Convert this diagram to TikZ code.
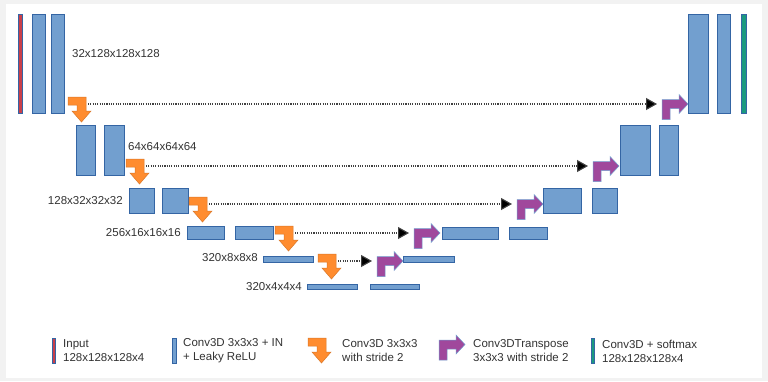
\documentclass[tikz,border=0pt]{standalone}
\usepackage{fontspec}
\setmainfont{Liberation Sans}
\usetikzlibrary{arrows.meta}

\definecolor{convblue}{HTML}{729FCF}
\definecolor{convedge}{HTML}{3465A4}
\definecolor{poolorange}{HTML}{FF8C2F}
\definecolor{uppurple}{HTML}{A0489C}
\definecolor{inred}{HTML}{C9404A}
\definecolor{outgreen}{HTML}{1B9A7F}
\definecolor{labelgray}{HTML}{333333}

\tikzset{
	conv/.style={draw=convedge, fill=convblue, line width=0.8pt, inner sep=0pt, anchor=north west},
	inbar/.style={conv, fill=inred},
	outbar/.style={conv, fill=outgreen},
	dimlabel/.style={inner sep=0pt, text=labelgray, font=\fontsize{11.5}{14}\selectfont},
	legtext/.style={dimlabel, anchor=west, align=left},
	skip/.style={dash pattern=on 1.1pt off 1.2pt, line width=1.1pt, draw=black!75, -{Triangle[length=11pt,width=12pt,fill=black]}},
	pics/pool/.style={code={
		\filldraw[fill=poolorange, draw=poolorange!85!black, line width=0.5pt]
			(0,0) -- (18,0) -- (18,14) -- (23,14) -- (13.5,25) -- (4,14) -- (9,14) -- (9,8) -- (0,8) -- cycle;
	}},
	pics/upconv/.style={code={
		\filldraw[fill=uppurple, draw=convblue, line width=0.5pt]
			(0,25) -- (0,5) -- (17,5) -- (17,0) -- (26,9.5) -- (17,19) -- (17,14) -- (8,14) -- (8,25) -- cycle;
	}},
}

\begin{document}
\begin{tikzpicture}[x=1pt, y=-1pt]

	% page and white panel
	\fill[black!5] (0,0) rectangle (768,381);
	\fill[white] (6,4) rectangle (762,378);
	\useasboundingbox (0,0) rectangle (768,381);

	% input and output bars
	\node[inbar, minimum width=4pt, minimum height=99pt] (in) at (18,14) {};
	\node[outbar, minimum width=5pt, minimum height=99pt] (out) at (741,14) {};

	% conv blocks: name / left / top / width / height
	\foreach \nm/\x/\y/\w/\h in {
		a1/32/14/13/99, a2/51/14/13/99, z1/688/14/20/99, z2/717/14/13/99,
		b1/76/125/19/50, b2/104/125/20/50, y1/620/125/30/50, y2/659/125/19/50,
		c1/129/188/25/25, c2/162/188/26/25, x1/543/188/38/25, x2/592/188/25/25,
		d1/187/226/37/13, d2/235/226/38/13, w1/442/227/56/12, w2/509/227/38/12,
		e1/263/256/50/6, v1/403/256/51/6,
		f1/307/284/50/5, f2/370/284/49/5}{
		\node[conv, minimum width=\w pt, minimum height=\h pt] (\nm) at (\x,\y) {};
	}

	% down arrows, skip connections and up arrows: level / pool x / pool y / upconv x
	\foreach \n/\ox/\oy/\px in {1/68/97/662, 2/126/159/593, 3/189/197/517, 4/275/226/414, 5/318/254/377}{
		\pic at (\ox,\oy) {pool};
		\coordinate (s\n) at (\ox+20,\oy+7);
		\coordinate (e\n) at (\px-5,\oy+7);
		\pic at (\px,\oy-2.5) {upconv};
		\draw[skip] (s\n) -- (e\n);
	}

	% feature map sizes
	\node[dimlabel, anchor=west] (l1) at (72,54) {32x128x128x128};
	\node[dimlabel, anchor=west] (l2) at (128,147) {64x64x64x64};
	\node[dimlabel, anchor=east] (l3) at (123,201) {128x32x32x32};
	\node[dimlabel, anchor=east] (l4) at (181,233) {256x16x16x16};
	\node[dimlabel, anchor=east] (l5) at (258,258) {320x8x8x8};
	\node[dimlabel, anchor=east] (l6) at (302,287) {320x4x4x4};

	% legend
	\node[inbar, minimum width=3pt, minimum height=25pt] (kin) at (52,338) {};
	\node[legtext] (tin) at (63,351) {Input\\128x128x128x4};
	\node[conv, minimum width=4pt, minimum height=25pt] (kconv) at (172,338) {};
	\node[legtext] (tconv) at (183,351) {Conv3D 3x3x3 + IN\\+ Leaky ReLU};
	\pic at (308,338) {pool};
	\node[legtext] (tpool) at (342,351) {Conv3D 3x3x3\\with stride 2};
	\pic at (439,335) {upconv};
	\node[legtext] (tup) at (473,351) {Conv3DTranspose\\3x3x3 with stride 2};
	\node[outbar, minimum width=3pt, minimum height=25pt] (kout) at (591,338) {};
	\node[legtext] (tout) at (602,351) {Conv3D + softmax\\128x128x128x4};

\end{tikzpicture}
\end{document}
